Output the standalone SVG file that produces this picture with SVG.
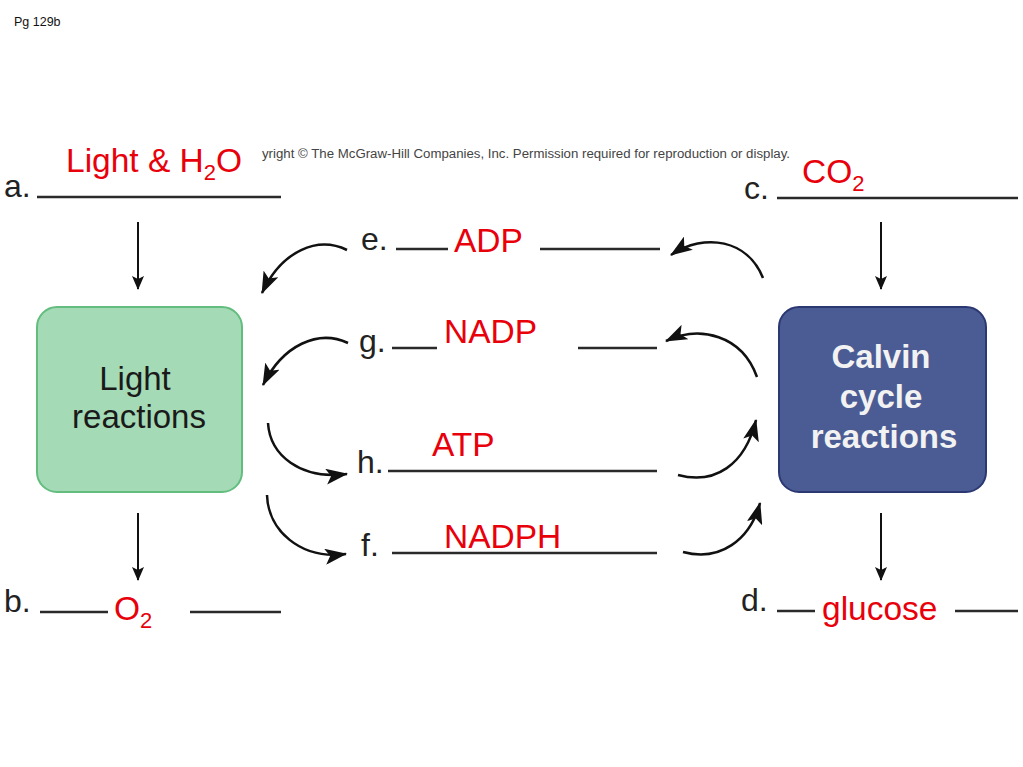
<svg xmlns="http://www.w3.org/2000/svg" width="1023" height="767" viewBox="0 0 1023 767">
<style>
text{font-family:"Liberation Sans",Arial,sans-serif}
.lbl{font-size:32px;fill:#222}
.red{font-size:33.5px;fill:#e8000b}
.sub{font-size:22px}
.ul{stroke:#2a2a2a;stroke-width:2.5;fill:none}
.arc{stroke:#111;stroke-width:2.5;fill:none;marker-end:url(#head)}
.down{stroke:#111;stroke-width:2;fill:none;marker-end:url(#dhead)}
.box-t{font-size:33px;text-anchor:middle}
</style>
<defs>
<marker id="head" viewBox="0 0 22 16" refX="21" refY="8" markerWidth="22" markerHeight="16" markerUnits="userSpaceOnUse" orient="auto">
<path d="M0,0 L22,8 L0,16 L5,8 Z" fill="#111"/>
</marker>
<marker id="dhead" viewBox="0 0 14 12" refX="13" refY="6" markerWidth="14" markerHeight="12" markerUnits="userSpaceOnUse" orient="auto">
<path d="M0,0 L14,6 L0,12 L3,6 Z" fill="#111"/>
</marker>
</defs>
<rect width="1023" height="767" fill="#fff"/>
<text x="14" y="26" font-size="12.5" fill="#111">Pg 129b</text>
<text x="262" y="158" font-size="12" fill="#444" textLength="528" lengthAdjust="spacingAndGlyphs">yright © The McGraw-Hill Companies, Inc. Permission required for reproduction or display.</text>

<g id="label-a">
<text class="lbl" x="4" y="197">a.</text>
<line class="ul" x1="37" y1="197" x2="281" y2="197"/>
<text class="red" x="66" y="172">Light &amp; H<tspan class="sub" dy="8">2</tspan><tspan dy="-8">O</tspan></text>
</g>
<g id="label-c">
<text class="lbl" x="744" y="199">c.</text>
<line class="ul" x1="777" y1="198" x2="1018" y2="198"/>
<text class="red" x="802" y="183">CO<tspan class="sub" dy="8">2</tspan></text>
</g>

<g id="light-reactions">
<rect x="37" y="307" width="205" height="185" rx="20" fill="#a4dab5" stroke="#62bd7e" stroke-width="2"/>
<text class="box-t" x="135" y="390" fill="#1a1a1a">Light</text>
<text class="box-t" x="139" y="428" fill="#1a1a1a">reactions</text>
</g>
<g id="calvin-cycle">
<rect x="779" y="307" width="207" height="185" rx="20" fill="#4b5c95" stroke="#2b3872" stroke-width="2"/>
<text class="box-t" x="881" y="368" fill="#f2f2f2" font-weight="bold">Calvin</text>
<text class="box-t" x="881" y="408" fill="#f2f2f2" font-weight="bold">cycle</text>
<text class="box-t" x="884" y="448" fill="#f2f2f2" font-weight="bold">reactions</text>
</g>

<g id="label-b">
<text class="lbl" x="4" y="612">b.</text>
<line class="ul" x1="40" y1="612" x2="108" y2="612"/>
<text class="red" x="114" y="620">O<tspan class="sub" dy="8">2</tspan></text>
<line class="ul" x1="190" y1="612" x2="281" y2="612"/>
</g>
<g id="label-d">
<text class="lbl" x="741" y="611">d.</text>
<line class="ul" x1="777" y1="611" x2="815" y2="611"/>
<text class="red" x="822" y="620">glucose</text>
<line class="ul" x1="955" y1="611" x2="1018" y2="611"/>
</g>

<g id="label-e">
<text class="lbl" x="361" y="250">e.</text>
<line class="ul" x1="396" y1="249" x2="448" y2="249"/>
<text class="red" x="454" y="252">ADP</text>
<line class="ul" x1="540" y1="249" x2="660" y2="249"/>
</g>
<g id="label-g">
<text class="lbl" x="359" y="352">g.</text>
<line class="ul" x1="392" y1="348" x2="437" y2="348"/>
<text class="red" x="444" y="343">NADP</text>
<line class="ul" x1="578" y1="348" x2="657" y2="348"/>
</g>
<g id="label-h">
<text class="lbl" x="357" y="473">h.</text>
<line class="ul" x1="388" y1="471" x2="657" y2="471"/>
<text class="red" x="432" y="456">ATP</text>
</g>
<g id="label-f">
<text class="lbl" x="361" y="556">f.</text>
<line class="ul" x1="392" y1="553" x2="657" y2="553"/>
<text class="red" x="444" y="548">NADPH</text>
</g>

<g id="connectors">
<line class="down" x1="138" y1="222" x2="138" y2="289"/>
<line class="down" x1="881" y1="222" x2="881" y2="289"/>
<line class="down" x1="138" y1="513" x2="138" y2="580"/>
<line class="down" x1="881" y1="513" x2="881" y2="580"/>

<path class="arc" d="M347,250 C318,236 282,250 262,293"/>
<path class="arc" d="M348,343 C318,329 283,345 263,385"/>
<path class="arc" d="M268,423 C270,455 300,480 347,474"/>
<path class="arc" d="M267,495 C268,530 300,560 346,554"/>

<path class="arc" d="M763,278 C748,240 705,232 671,255"/>
<path class="arc" d="M757,377 C742,335 700,325 666,341"/>
<path class="arc" d="M678,475 C715,485 745,465 756,420"/>
<path class="arc" d="M683,552 C720,562 750,540 760,503"/>
</g>
</svg>
